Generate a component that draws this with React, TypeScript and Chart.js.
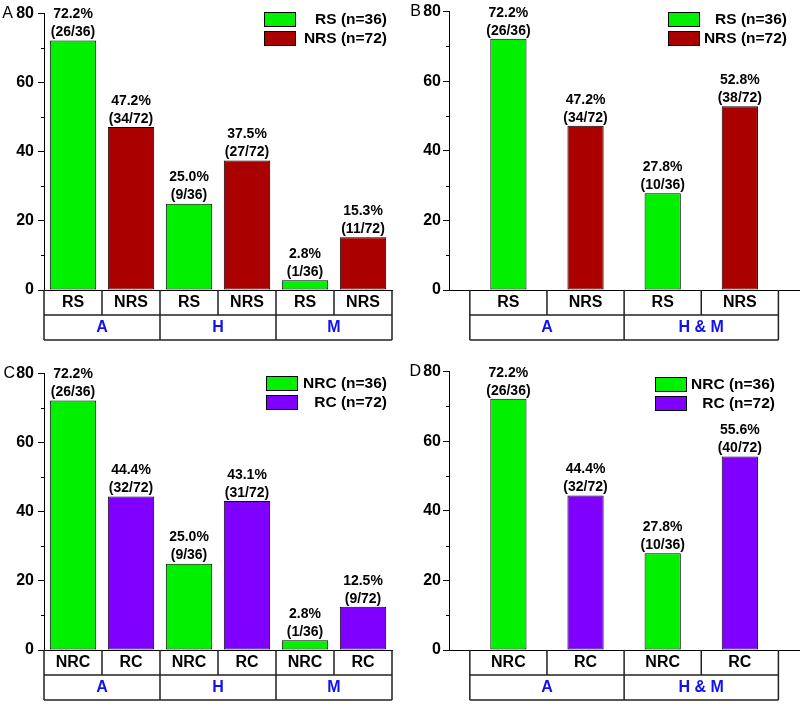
import React, { useEffect, useRef } from 'react';
import { Chart, registerables } from 'chart.js';

Chart.register(...registerables);

const FONT = '"Liberation Sans", Arial, sans-serif';
const GREEN = '#00f000';
const DARKRED = '#aa0000';
const PURPLE = '#8000ff';
const BLUE = '#1010f0';

// Panel A
const aCategories = ['RS', 'NRS', 'RS', 'NRS', 'RS', 'NRS'];
const aGroups = ['A', 'H', 'M'];
const aGroupSizes = [2, 2, 2];
const aValues = [72.2, 47.2, 25.0, 37.5, 2.8, 15.3];
const aCounts = ['(26/36)', '(34/72)', '(9/36)', '(27/72)', '(1/36)', '(11/72)'];
const aLegend = ['RS (n=36)', 'NRS (n=72)'];

// Panel B
const bCategories = ['RS', 'NRS', 'RS', 'NRS'];
const bGroups = ['A', 'H & M'];
const bGroupSizes = [2, 2];
const bValues = [72.2, 47.2, 27.8, 52.8];
const bCounts = ['(26/36)', '(34/72)', '(10/36)', '(38/72)'];
const bLegend = ['RS (n=36)', 'NRS (n=72)'];

// Panel C
const cCategories = ['NRC', 'RC', 'NRC', 'RC', 'NRC', 'RC'];
const cGroups = ['A', 'H', 'M'];
const cGroupSizes = [2, 2, 2];
const cValues = [72.2, 44.4, 25.0, 43.1, 2.8, 12.5];
const cCounts = ['(26/36)', '(32/72)', '(9/36)', '(31/72)', '(1/36)', '(9/72)'];
const cLegend = ['NRC (n=36)', 'RC (n=72)'];

// Panel D
const dCategories = ['NRC', 'RC', 'NRC', 'RC'];
const dGroups = ['A', 'H & M'];
const dGroupSizes = [2, 2];
const dValues = [72.2, 44.4, 27.8, 55.6];
const dCounts = ['(26/36)', '(32/72)', '(10/36)', '(40/72)'];
const dLegend = ['NRC (n=36)', 'RC (n=72)'];

const yTicksMax = 80;

type PanelProps = {
  letter: string; categories: string[]; groups: string[]; groupSizes: number[];
  values: number[]; counts: string[]; legend: string[]; colors: string[]; layout: any;
};

function Panel(p: PanelProps) {
  const ref = useRef<HTMLCanvasElement | null>(null);
  useEffect(() => {
    const { layout } = p;
    const barColors = p.categories.map((_, i) => p.colors[i % 2]);
    const decor = {
      id: 'decor',
      afterDatasetsDraw(chart: any) {
        const ctx = chart.ctx;
        const meta = chart.getDatasetMeta(0);
        ctx.save();
        ctx.fillStyle = '#000';
        ctx.textAlign = 'center';
        ctx.textBaseline = 'middle';
        ctx.font = `bold 14px ${FONT}`;
        meta.data.forEach((el: any, i: number) => {
          ctx.fillText(p.values[i].toFixed(1) + '%', el.x, el.y - 26);
          ctx.fillText(p.counts[i], el.x, el.y - 8);
        });
        ctx.restore();
      },
      afterDraw(chart: any) {
        const ctx = chart.ctx;
        const xs = chart.scales.x;
        const ys = chart.scales.y;
        const area = chart.chartArea;
        ctx.save();
        // minor ticks
        ctx.strokeStyle = '#000';
        ctx.lineWidth = 1;
        for (let v = 10; v < yTicksMax; v += 20) {
          const y = Math.round(ys.getPixelForValue(v)) + 0.5;
          ctx.beginPath();
          ctx.moveTo(area.left - 3, y);
          ctx.lineTo(area.left, y);
          ctx.stroke();
        }
        // table
        const step = xs.getPixelForValue(1) - xs.getPixelForValue(0);
        const b = area.bottom;
        ctx.lineWidth = 1.5;
        ctx.strokeStyle = '#222';
        const n = p.categories.length;
        const L = xs.getPixelForValue(0) - step / 2;
        const R = xs.getPixelForValue(n - 1) + step / 2;
        ctx.beginPath();
        ctx.moveTo(L, b + 25); ctx.lineTo(R, b + 25);
        ctx.moveTo(L, b + 50); ctx.lineTo(R, b + 50);
        ctx.moveTo(L, b); ctx.lineTo(L, b + 50);
        ctx.moveTo(R, b); ctx.lineTo(R, b + 50);
        for (let i = 1; i < n; i++) {
          const x = xs.getPixelForValue(i) - step / 2;
          ctx.moveTo(x, b); ctx.lineTo(x, b + 25);
        }
        let acc = 0;
        for (let g = 0; g < p.groupSizes.length - 1; g++) {
          acc += p.groupSizes[g];
          const x = xs.getPixelForValue(acc) - step / 2;
          ctx.moveTo(x, b + 25); ctx.lineTo(x, b + 50);
        }
        ctx.stroke();
        ctx.textAlign = 'center';
        ctx.textBaseline = 'middle';
        ctx.font = `bold 16px ${FONT}`;
        ctx.fillStyle = '#000';
        p.categories.forEach((c, i) => ctx.fillText(c, xs.getPixelForValue(i), b + 13));
        ctx.fillStyle = BLUE;
        acc = 0;
        p.groups.forEach((g, gi) => {
          const s = acc;
          const e = acc + p.groupSizes[gi] - 1;
          acc += p.groupSizes[gi];
          const cx = (xs.getPixelForValue(s) + xs.getPixelForValue(e)) / 2;
          ctx.fillText(g, cx, b + 38);
        });
        // letter
        ctx.fillStyle = '#000';
        ctx.font = `16px ${FONT}`;
        ctx.textAlign = 'right';
        ctx.fillText(p.letter, layout.letterX, ys.getPixelForValue(yTicksMax));
        // legend
        ctx.font = `bold 15.5px ${FONT}`;
        p.legend.forEach((t, i) => {
          const y = layout.legY + i * 19;
          ctx.fillStyle = p.colors[i];
          ctx.fillRect(layout.legX, y, 32, 15);
          ctx.lineWidth = 1;
          ctx.strokeStyle = '#000';
          ctx.strokeRect(layout.legX + 0.5, y + 0.5, 31, 14);
          ctx.fillStyle = '#000';
          ctx.textAlign = 'right';
          ctx.fillText(t, layout.legX + layout.legTextRight, y + 8);
        });
        ctx.restore();
      },
    };
    const chart = new Chart(ref.current as HTMLCanvasElement, {
      type: 'bar',
      data: {
        datasets: [{
          data: p.values.map((v, i) => ({ x: i, y: v })) as any,
          backgroundColor: barColors,
          borderColor: '#000',
          borderWidth: 1,
          borderSkipped: false,
          barPercentage: layout.barPct,
          categoryPercentage: 1,
        }],
      },
      options: {
        animation: false,
        responsive: false,
        maintainAspectRatio: false,
        layout: { padding: { top: layout.top, right: layout.right, left: 0, bottom: 0 } },
        plugins: { legend: { display: false }, tooltip: { enabled: false } },
        scales: {
          x: {
            type: 'linear', min: layout.xmin, max: layout.xmax, offset: false,
            ticks: { display: false },
            grid: { display: false },
            border: { display: true, color: '#000', width: 1 },
            afterFit: (s: any) => { s.height = 54; },
          },
          y: {
            min: 0, max: yTicksMax,
            ticks: {
              stepSize: 10, autoSkip: false,
              callback: (v: any) => (Number(v) % 20 === 0 ? String(v) : ''),
              color: '#000', font: { family: FONT, size: 16, weight: 'bold' }, padding: layout.tickPad,
            },
            grid: {
              display: true, drawOnChartArea: false, tickLength: 6,
              tickColor: (c: any) => (c.tick && c.tick.value % 20 === 0 ? '#000' : 'rgba(0,0,0,0)'),
            },
            border: { color: '#000', width: 1 },
            afterFit: (s: any) => { s.width = layout.axisX; },
          },
        },
      } as any,
      plugins: [decor],
    });
    return () => chart.destroy();
  }, []);
  return (
    <canvas ref={ref} width={400} height={344}
      style={{ position: 'absolute', left: p.layout.left, top: p.layout.top0, width: 400, height: 344 }} />
  );
}

const layoutA: any = { left: 0, top0: 0, top: 10, axisX: 44, right: 8, xmin: -0.5, xmax: 5.5, barPct: 0.8, tickPad: 4, letterX: 13, legX: 264, legY: 12, legTextRight: 123 };
const layoutB: any = { left: 400, top0: 0, top: 10, axisX: 49, right: 0, xmin: -0.77, xmax: 3.78, barPct: 0.61, tickPad: 2, letterX: 21, legX: 268, legY: 12, legTextRight: 119 };
const layoutC: any = { left: 0, top0: 360, top: 10, axisX: 44, right: 8, xmin: -0.5, xmax: 5.5, barPct: 0.8, tickPad: 4, letterX: 15, legX: 266, legY: 16, legTextRight: 121 };
const layoutD: any = { left: 400, top0: 360, top: 10, axisX: 49, right: 0, xmin: -0.77, xmax: 3.78, barPct: 0.61, tickPad: 2, letterX: 21, legX: 255, legY: 17, legTextRight: 120 };

export default function App() {
  return (
    <div style={{ position: 'fixed', left: 0, top: 0, width: 800, height: 704, background: '#fff', overflow: 'hidden' }}>
      <Panel letter="A" categories={aCategories} groups={aGroups} groupSizes={aGroupSizes} values={aValues} counts={aCounts} legend={aLegend} colors={[GREEN, DARKRED]} layout={layoutA} />
      <Panel letter="B" categories={bCategories} groups={bGroups} groupSizes={bGroupSizes} values={bValues} counts={bCounts} legend={bLegend} colors={[GREEN, DARKRED]} layout={layoutB} />
      <Panel letter="C" categories={cCategories} groups={cGroups} groupSizes={cGroupSizes} values={cValues} counts={cCounts} legend={cLegend} colors={[GREEN, PURPLE]} layout={layoutC} />
      <Panel letter="D" categories={dCategories} groups={dGroups} groupSizes={dGroupSizes} values={dValues} counts={dCounts} legend={dLegend} colors={[GREEN, PURPLE]} layout={layoutD} />
    </div>
  );
}
